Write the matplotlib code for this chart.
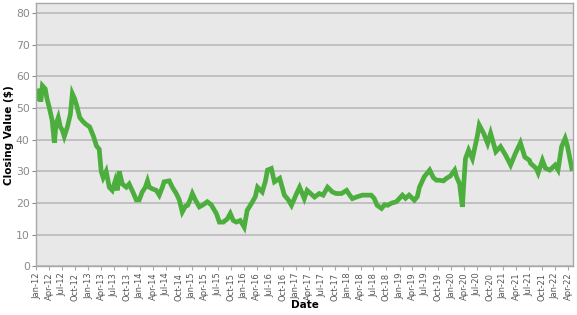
import matplotlib
matplotlib.use("Agg")
import matplotlib.pyplot as plt
import matplotlib.dates as mdates
import pandas as pd

# closing values (roughly two points a month)
dates = ["2012-01-01", "2012-01-15", "2012-02-01", "2012-02-12", "2012-03-03", "2012-03-15",
         "2012-04-01", "2012-04-21", "2012-05-06", "2012-05-19", "2012-06-03", "2012-06-18",
         "2012-07-01", "2012-07-15", "2012-08-06", "2012-08-27", "2012-09-10", "2012-09-25",
         "2012-10-09", "2012-11-01", "2012-11-18", "2012-12-10", "2013-01-10", "2013-02-06",
         "2013-02-27", "2013-03-18", "2013-04-01", "2013-04-15", "2013-05-06", "2013-05-28",
         "2013-06-18", "2013-07-09", "2013-07-24", "2013-08-06", "2013-08-28", "2013-09-25",
         "2013-10-15", "2013-11-15", "2013-12-04", "2013-12-25", "2014-01-15", "2014-02-06",
         "2014-02-21", "2014-03-06", "2014-03-27", "2014-04-24", "2014-05-15", "2014-06-06",
         "2014-06-18", "2014-07-24", "2014-08-15", "2014-09-12", "2014-10-03", "2014-10-24",
         "2014-11-15", "2014-12-01", "2014-12-18", "2015-01-03", "2015-01-24", "2015-02-21",
         "2015-03-21", "2015-04-18", "2015-05-15", "2015-06-21", "2015-07-12", "2015-08-09",
         "2015-09-06", "2015-09-27", "2015-10-18", "2015-11-09", "2015-12-06", "2016-01-03",
         "2016-01-24", "2016-03-01", "2016-03-21", "2016-04-06", "2016-05-09", "2016-06-01",
         "2016-06-15", "2016-07-12", "2016-08-03", "2016-09-09", "2016-10-12", "2016-11-09",
         "2016-12-01", "2017-01-06", "2017-01-27", "2017-03-01", "2017-03-21", "2017-05-12",
         "2017-06-15", "2017-07-12", "2017-08-12", "2017-09-15", "2017-10-12", "2017-11-18",
         "2017-12-24", "2018-01-15", "2018-02-03", "2018-03-09", "2018-04-15", "2018-05-18",
         "2018-06-15", "2018-07-06", "2018-07-27", "2018-08-27", "2018-09-18", "2018-10-09",
         "2018-11-06", "2018-12-09", "2019-01-21", "2019-02-12", "2019-03-09", "2019-04-15",
         "2019-05-06", "2019-05-21", "2019-06-24", "2019-08-01", "2019-08-27", "2019-09-18",
         "2019-10-09", "2019-11-06", "2019-11-27", "2019-12-24", "2020-01-24", "2020-02-06",
         "2020-02-28", "2020-03-18", "2020-03-28", "2020-04-09", "2020-05-01", "2020-05-28",
         "2020-07-01", "2020-07-15", "2020-08-15", "2020-09-12", "2020-10-03", "2020-11-09",
         "2020-12-12", "2021-01-18", "2021-02-21", "2021-03-27", "2021-05-01", "2021-06-01",
         "2021-07-03", "2021-07-12", "2021-08-21", "2021-09-03", "2021-10-03", "2021-10-24",
         "2021-11-24", "2022-01-01", "2022-01-21", "2022-02-15", "2022-03-12", "2022-03-28",
         "2022-04-12", "2022-04-28"]
closes = [53, 56, 52, 57, 56, 53,
          50, 46, 39, 45, 47, 44,
          43, 41, 44, 48, 54.5, 53,
          51, 47, 46, 45, 44, 41,
          38, 37, 30, 28, 30, 25,
          24, 27, 24, 30, 26, 25,
          26, 23, 21, 21, 23.5, 25,
          27, 25, 24.5, 24, 22.5, 25,
          26.7, 27, 25, 23, 21, 17.2,
          19, 19.3, 21, 23, 21, 18.8,
          19.5, 20.4, 19.5, 16.7, 14, 14,
          15, 16.7, 14.5, 14, 14.5, 12.4,
          17.7, 20.4, 22, 25, 23.5, 27,
          30.4, 30.9, 26.7, 27.8, 22.5, 21,
          19.3, 23, 25, 21.4, 24, 21.9,
          23, 22.5, 25, 23.5, 23, 23,
          24, 22.5, 21.4, 22, 22.5, 22.5,
          22.5, 21.5, 19.3, 18.3, 19.5, 19.3,
          20, 20.4, 22.5, 21.5, 22.5, 20.9,
          22, 25, 28.3, 30.4, 28, 27.2,
          27.2, 27, 27.8, 28.5, 30.4, 28.3,
          26, 18.8, 26, 34, 36.7, 34,
          41, 44.6, 42, 38.8, 42, 36.2,
          37.8, 35, 32, 35.7, 39, 34.5,
          33.5, 32.5, 30.9, 29.5, 33.5, 31,
          30.4, 32, 30.5, 37.8, 40.4, 38,
          34.6, 30.9]

df = pd.DataFrame({"date": pd.to_datetime(dates), "close": closes})

fig = plt.figure(figsize=(5.77, 3.15), dpi=100)
ax = fig.add_axes([0.0624, 0.154, 0.9306, 0.8356])
ax.set_facecolor("#e8e8e8")

ax.plot(df["date"], df["close"], color="#4cae3c", linewidth=3.4, solid_joinstyle="miter")

ax.set_ylim(0, 83)
ax.set_yticks(range(0, 81, 10))
ax.set_xlim(pd.Timestamp("2011-12-29"), pd.Timestamp("2022-05-06"))
ax.xaxis.set_major_locator(mdates.MonthLocator(bymonth=[1, 4, 7, 10]))
ax.xaxis.set_major_formatter(mdates.DateFormatter("%b-%y"))

ax.grid(axis="y", color="#bdbdbd", linewidth=1.3)
ax.set_axisbelow(True)
for s in ax.spines.values():
    s.set_color("#a8a8a8")
    s.set_linewidth(1.0)

ax.tick_params(axis="y", labelsize=7.8, colors="#8a8a8a", length=3, pad=1.5)
ax.tick_params(axis="x", labelsize=6.0, labelcolor="#555555", color="#a8a8a8",
               length=3, pad=1.5, labelrotation=90)

ax.set_xlabel("Date", fontsize=7.5, fontweight="bold", va="center")
ax.set_ylabel("Closing Value ($)", fontsize=7.5, fontweight="bold", va="center")
ax.xaxis.set_label_coords(0.5, -0.148)
ax.yaxis.set_label_coords(-0.05, 0.5)

fig.savefig("out.png", dpi=100)
